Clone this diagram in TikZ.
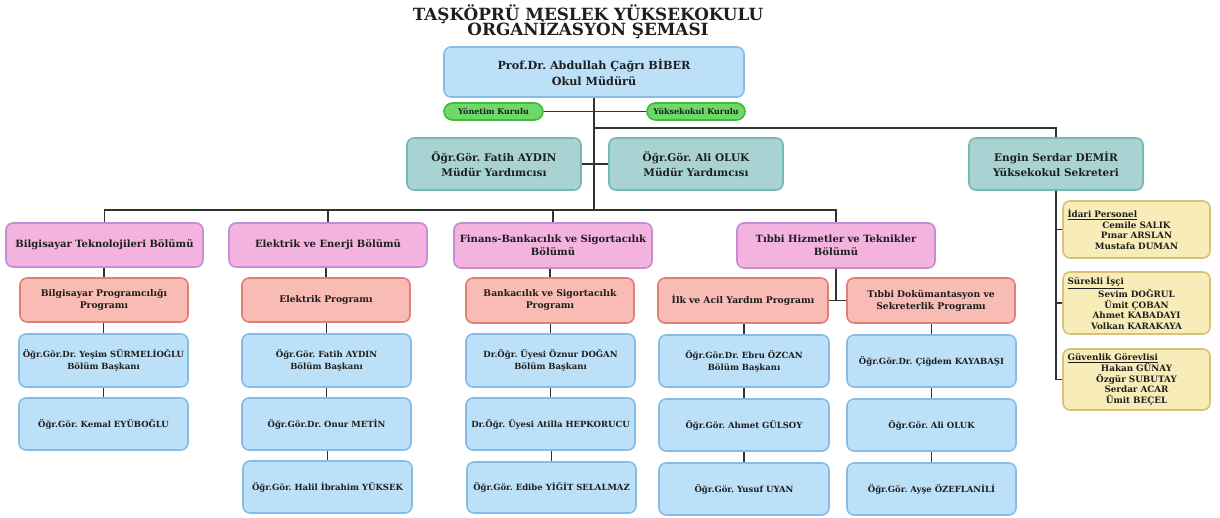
\documentclass[tikz,border=0pt]{standalone}
\usepackage{fontspec}
\setmainfont{DejaVu Serif}
\definecolor{bluefill}{HTML}{BCE0F8}
\definecolor{blueline}{HTML}{85BDE8}
\definecolor{tealfill}{HTML}{A9D3D3}
\definecolor{tealline}{HTML}{76B8B6}
\definecolor{greenfill}{HTML}{6ED868}
\definecolor{greenline}{HTML}{40B83E}
\definecolor{pinkfill}{HTML}{F3B3DE}
\definecolor{pinkline}{HTML}{C58CD5}
\definecolor{salfill}{HTML}{F9BCB4}
\definecolor{salline}{HTML}{DF8077}
\definecolor{yelfill}{HTML}{F8ECB8}
\definecolor{yelline}{HTML}{D6C27A}
\definecolor{txt}{HTML}{1E1E1E}
\definecolor{conn}{HTML}{333333}
\newcommand\bx[7]{\node[#1,minimum width={#5-#3},minimum height={#6-#4}] (#2) at ({(#3+#5)/2},{(#4+#6)/2}) {#7};}
\frenchspacing
\begin{document}
\frenchspacing
\begin{tikzpicture}[x=1pt,y=-1pt,
  base/.style={draw,line width=1.6pt,rounded corners=7pt,align=center,inner sep=0pt,text=txt,font=\bfseries},
  bluebox/.style={base,fill=bluefill,draw=blueline,font=\bfseries\fontsize{8.5}{12}\selectfont},
  headbox/.style={base,fill=bluefill,draw=blueline,font=\bfseries\fontsize{11.2}{16}\selectfont},
  tealbox/.style={base,fill=tealfill,draw=tealline,font=\bfseries\fontsize{10.5}{15}\selectfont},
  pill/.style={base,fill=greenfill,draw=greenline,rounded corners=8.5pt,font=\bfseries\fontsize{8}{10}\selectfont},
  deptbox/.style={base,fill=pinkfill,draw=pinkline,font=\bfseries\fontsize{10}{13}\selectfont},
  progbox/.style={base,fill=salfill,draw=salline,font=\bfseries\fontsize{9.2}{12}\selectfont},
  yelbox/.style={base,fill=yelfill,draw=yelline,font=\bfseries\fontsize{8.8}{10.7}\selectfont,text width=138pt},
  titletext/.style={font=\bfseries\fontsize{16.8}{15}\selectfont,text=txt,anchor=base,inner sep=0pt},
  link/.style={draw=conn,line width=1.3pt}]
\useasboundingbox (0,0) rectangle (1220,517);
% title
\node[titletext] (title1) at (588,20) {TAŞKÖPRÜ MESLEK YÜKSEKOKULU};
\node[titletext] (title2) at (588,35) {ORGANİZASYON ŞEMASI};
% top
\bx{headbox}{dir}{444}{47}{744}{97}{Prof.Dr. Abdullah Çağrı BİBER\\Okul Müdürü}
\bx{pill}{yon}{444}{103}{543}{120}{Yönetim Kurulu}
\bx{pill}{yuk}{647}{103}{745}{120}{Yüksekokul Kurulu}
\bx{tealbox}{fatih}{407}{138}{581}{190}{Öğr.Gör. Fatih AYDIN\\Müdür Yardımcısı}
\bx{tealbox}{ali}{609}{138}{783}{190}{Öğr.Gör. Ali OLUK\\Müdür Yardımcısı}
\bx{tealbox}{engin}{969}{138}{1143}{190}{Engin Serdar DEMİR\\Yüksekokul Sekreteri}
% departments
\bx{deptbox}{d1}{6}{223}{203}{267}{Bilgisayar Teknolojileri Bölümü}
\bx{deptbox}{d2}{229}{223}{427}{267}{Elektrik ve Enerji Bölümü}
\bx{deptbox}{d3}{454}{223}{652}{268}{Finans-Bankacılık ve Sigortacılık\\Bölümü}
\bx{deptbox}{d4}{737}{223}{935}{268}{Tıbbi Hizmetler ve Teknikler\\Bölümü}
% programs
\bx{progbox}{p1}{20}{278}{188}{322}{Bilgisayar Programcılığı\\Programı}
\bx{progbox}{p2}{242}{278}{410}{322}{Elektrik Programı}
\bx{progbox}{p3}{466}{278}{634}{323}{Bankacılık ve Sigortacılık\\Programı}
\bx{progbox}{p4}{658}{278}{828}{323}{İlk ve Acil Yardım Programı}
\bx{progbox}{p5}{847}{278}{1015}{323}{Tıbbi Dokümantasyon ve\\Sekreterlik Programı}
% staff
\bx{bluebox}{a1}{19}{334}{188}{387}{Öğr.Gör.Dr. Yeşim SÜRMELİOĞLU\\Bölüm Başkanı}
\bx{bluebox}{a2}{19}{398}{188}{450}{Öğr.Gör. Kemal EYÜBOĞLU}
\bx{bluebox}{b1}{242}{334}{411}{387}{Öğr.Gör. Fatih AYDIN\\Bölüm Başkanı}
\bx{bluebox}{b2}{242}{398}{411}{450}{Öğr.Gör.Dr. Onur METİN}
\bx{bluebox}{b3}{243}{461}{412}{513}{Öğr.Gör. Halil İbrahim YÜKSEK}
\bx{bluebox}{c1}{466}{334}{635}{387}{Dr.Öğr. Üyesi Öznur DOĞAN\\Bölüm Başkanı}
\bx{bluebox}{c2}{466}{398}{635}{450}{Dr.Öğr. Üyesi Atilla HEPKORUCU}
\bx{bluebox}{c3}{467}{462}{636}{513}{Öğr.Gör. Edibe YİĞİT SELALMAZ}
\bx{bluebox}{e1}{659}{335}{829}{387}{Öğr.Gör.Dr. Ebru ÖZCAN\\Bölüm Başkanı}
\bx{bluebox}{e2}{659}{399}{829}{451}{Öğr.Gör. Ahmet GÜLSOY}
\bx{bluebox}{e3}{659}{463}{829}{515}{Öğr.Gör. Yusuf UYAN}
\bx{bluebox}{f1}{847}{335}{1016}{387}{Öğr.Gör.Dr. Çiğdem KAYABAŞI}
\bx{bluebox}{f2}{847}{399}{1016}{451}{Öğr.Gör. Ali OLUK}
\bx{bluebox}{f3}{847}{463}{1016}{515}{Öğr.Gör. Ayşe ÖZEFLANİLİ}
% secretary staff
\bx{yelbox}{y1}{1063}{201}{1210}{258}{\makebox[138pt][l]{\underline{İdari Personel}}\\Cemile SALIK\\Pınar ARSLAN\\Mustafa DUMAN}
\bx{yelbox}{y2}{1063}{272}{1210}{334}{\makebox[138pt][l]{\underline{Sürekli İşçi}}\\Sevim DOĞRUL\\Ümit ÇOBAN\\Ahmet KABADAYI\\Volkan KARAKAYA}
\bx{yelbox}{y3}{1063}{349}{1210}{410}{\makebox[138pt][l]{\underline{Güvenlik Görevlisi}}\\Hakan GÜNAY\\Özgür SUBUTAY\\Serdar ACAR\\Ümit BEÇEL}
% connectors
\coordinate (j1) at (594,128);
\coordinate (bus) at (594,210);
\draw[link] (dir.south) -- (bus);
\draw[link] (yon.east) -- (yuk.west);
\draw[link] (j1) -| (engin.north);
\draw[link] (fatih.east) -- (ali.west);
\draw[link] (d1.north) |- (bus) -| (d4.north);
\draw[link] (d2.north) -- (d2.north |- bus);
\draw[link] (d3.north) -- (d3.north |- bus);
\draw[link] (p1.north) -- (p1.north |- d1.south);
\draw[link] (p2.north) -- (p2.north |- d2.south);
\draw[link] (p3.north) -- (p3.north |- d3.south);
\draw[link] (d4.south) -- (d4.south |- p4.east);
\draw[link] (p4.east) -- (p5.west);
\draw[link] (a1.north) -- (a1.north |- p1.south);
\draw[link] (a2.north) -- (a2.north |- a1.south);
\draw[link] (b1.north) -- (b1.north |- p2.south);
\draw[link] (b2.north) -- (b2.north |- b1.south);
\draw[link] (b3.north) -- (b3.north |- b2.south);
\draw[link] (c1.north) -- (c1.north |- p3.south);
\draw[link] (c2.north) -- (c2.north |- c1.south);
\draw[link] (c3.north) -- (c3.north |- c2.south);
\draw[link] (e1.north) -- (e1.north |- p4.south);
\draw[link] (e2.north) -- (e2.north |- e1.south);
\draw[link] (e3.north) -- (e3.north |- e2.south);
\draw[link] (f1.north) -- (f1.north |- p5.south);
\draw[link] (f2.north) -- (f2.north |- f1.south);
\draw[link] (f3.north) -- (f3.north |- f2.south);
\draw[link] (engin.south) |- (y3.west);
\draw[link] (y1.west) -- (y1.west -| engin.south);
\draw[link] (y2.west) -- (y2.west -| engin.south);
\end{tikzpicture}
\end{document}
